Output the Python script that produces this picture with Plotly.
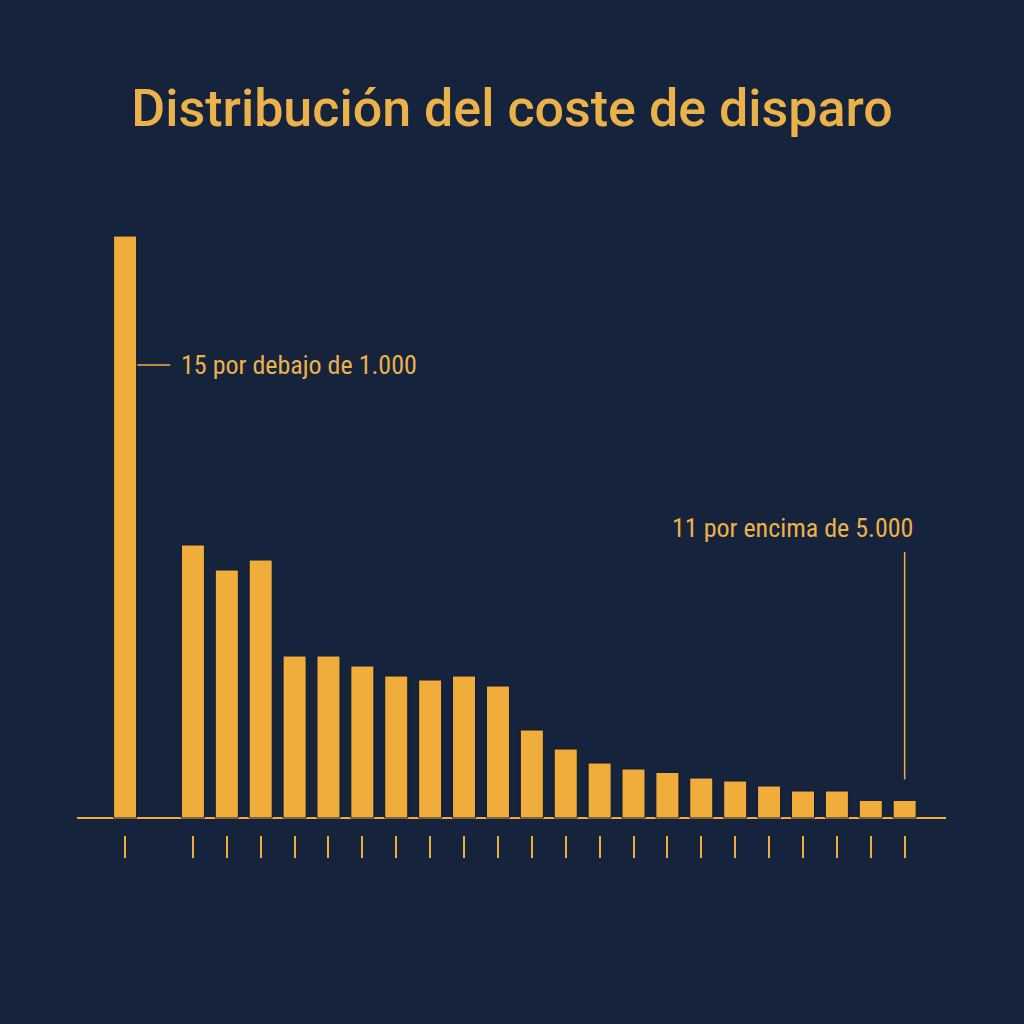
import plotly.graph_objects as go

# data (bar heights, arbitrary units)
positions = [0] + list(range(2, 24))
values = [582, 273, 248, 258, 162, 162, 152, 142, 138, 142, 132, 88, 69, 55, 49, 45.6, 40, 37, 32, 27, 27, 17.6, 17.6]
title_text = "Distribución del coste de disparo"
note_low = "15 por debajo de 1.000"
note_high = "11 por encima de 5.000"

BG = "#15233c"
GOLD = "#f0ad3c"
TXT = "#ecb24a"
NOTE_FONT = "Roboto Condensed, Liberation Sans Narrow, Roboto"

fig = go.Figure()
fig.add_trace(go.Bar(
    x=positions, y=values, width=0.68,
    marker=dict(color=GOLD, line=dict(color="#0e1a2c", width=1)),
    hoverinfo="skip",
))

fig.update_layout(
    width=1024, height=1024,
    paper_bgcolor=BG, plot_bgcolor=BG,
    margin=dict(l=77, r=78, t=200, b=166),
    showlegend=False,
    title=dict(text=title_text, x=0.5, xanchor="center", y=1 - 108 / 1024, yanchor="middle",
               font=dict(family="Roboto", size=52, color=TXT, weight=500)),
    xaxis=dict(range=[-1.42, 24.22], showgrid=False, zeroline=False, showline=False,
               tickmode="array", tickvals=positions, ticks="inside", ticklen=22,
               tickwidth=2, tickcolor=GOLD, showticklabels=False),
    yaxis=dict(range=[-40, 618], showgrid=False, showticklabels=False, ticks="",
               zeroline=True, zerolinecolor=GOLD, zerolinewidth=2),
)

# annotation for the first bar
fig.add_shape(type="line", xref="x", yref="y", x0=positions[0] + 0.36, x1=positions[0] + 1.33,
              y0=453, y1=453, line=dict(color=GOLD, width=1.5))
fig.add_annotation(xref="x", yref="y", x=positions[0] + 1.6, y=453, text=note_low,
                   showarrow=False, xanchor="left", yanchor="middle",
                   font=dict(family=NOTE_FONT, size=26, color=TXT))

# annotation for the last bar
fig.add_shape(type="line", xref="x", yref="y", x0=positions[-1], x1=positions[-1],
              y0=values[-1] + 21, y1=266, line=dict(color=GOLD, width=1.5))
fig.add_annotation(xref="x", yref="y", x=positions[-1] + 0.3, y=290, text=note_high,
                   showarrow=False, xanchor="right", yanchor="middle",
                   font=dict(family=NOTE_FONT, size=26, color=TXT))

fig.write_html(
    "out.html",
    config={"displayModeBar": False},
    post_script="document.body.style.margin='0';document.body.style.background='#15233c';",
)
